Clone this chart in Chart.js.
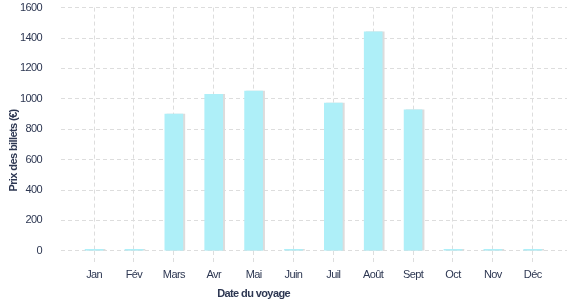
<!DOCTYPE html>
<html>
<head>
<meta charset="utf-8">
<script src="https://cdn.jsdelivr.net/npm/chart.js@4.4.1/dist/chart.umd.min.js"></script>
<style>
  html, body { margin: 0; padding: 0; background: #fff; }
  #wrap { width: 577px; height: 300px; overflow: hidden; }
  #priceChart { display: block; margin-top: -18px; }
</style>
</head>
<body>
<div id="wrap"><canvas id="priceChart" width="577" height="318"></canvas></div>
<script>
// data
const months = ['Jan', 'Fév', 'Mars', 'Avr', 'Mai', 'Juin', 'Juil', 'Août', 'Sept', 'Oct', 'Nov', 'Déc'];
const prices = [0, 0, 900, 1030, 1050, 0, 972, 1440, 927, 0, 0, 0];
const yTicks = [0, 200, 400, 600, 800, 1000, 1200, 1400, 1600];

const textColor = '#2d3752';
const gridColor = '#dddddd';
const fontFamily = '"Liberation Sans", Arial, sans-serif';

// tighter letter spacing like the original, bar shadow, axis titles
const stylePlugin = {
  id: 'style',
  beforeLayout(chart) { chart.ctx.letterSpacing = '-0.6px'; },
  beforeDraw(chart) { chart.ctx.letterSpacing = '-0.6px'; },
  beforeDatasetsDraw(chart) {
    const ctx = chart.ctx;
    ctx.save();
    ctx.shadowColor = '#dcdcdc';
    ctx.shadowOffsetX = 2;
    ctx.shadowOffsetY = 0;
    ctx.shadowBlur = 0;
  },
  afterDatasetsDraw(chart) {
    chart.ctx.restore();
  },
  afterDraw(chart) {
    const ctx = chart.ctx;
    const x = chart.scales.x;
    const y = chart.scales.y;
    ctx.save();
    ctx.letterSpacing = '-0.6px';
    ctx.fillStyle = textColor;
    ctx.font = 'bold 11px ' + fontFamily;
    ctx.textAlign = 'center';
    ctx.textBaseline = 'middle';
    ctx.fillText('Date du voyage', x.getPixelForValue(4), y.bottom + 43);
    ctx.translate(14, y.getPixelForValue(660));
    ctx.rotate(-Math.PI / 2);
    ctx.fillText('Prix des billets (€)', 0, 0);
    ctx.restore();
  }
};

const ctx = document.getElementById('priceChart').getContext('2d');
new Chart(ctx, {
  type: 'bar',
  data: {
    datasets: [{
      label: 'Prix des billets (€)',
      data: prices.map((p, i) => ({ x: i, y: p })),
      backgroundColor: '#aeeff8',
      borderWidth: 0,
      barThickness: 18,
      minBarLength: 1.5
    }]
  },
  options: {
    responsive: false,
    animation: false,
    layout: { padding: { left: 0, right: 10, top: 0, bottom: 12 } },
    plugins: {
      legend: { display: false },
      tooltip: { enabled: false }
    },
    scales: {
      x: {
        type: 'linear',
        offset: false,
        min: -0.83,
        max: 11.86,
        afterBuildTicks: (s) => { s.ticks = months.map((m, i) => ({ value: i })); },
        border: { display: false, dash: [4, 3] },
        grid: {
          offset: false,
          color: gridColor,
          tickLength: 12,
          tickColor: gridColor,
          tickBorderDash: [4, 3]
        },
        ticks: {
          color: textColor,
          font: { family: fontFamily, size: 11 },
          padding: 6,
          autoSkip: false,
          maxRotation: 0,
          callback: (v) => months[v]
        }
      },
      y: {
        min: 0,
        max: 1600,
        afterBuildTicks: (s) => { s.ticks = yTicks.map(v => ({ value: v })); },
        afterFit: (s) => { s.width = 61; },
        border: { display: false, dash: [4, 3] },
        grid: {
          color: gridColor,
          drawTicks: false
        },
        ticks: {
          color: textColor,
          font: { family: fontFamily, size: 11 },
          padding: 19,
          callback: (v) => String(v)
        }
      }
    }
  },
  plugins: [stylePlugin]
});
</script>
</body>
</html>
